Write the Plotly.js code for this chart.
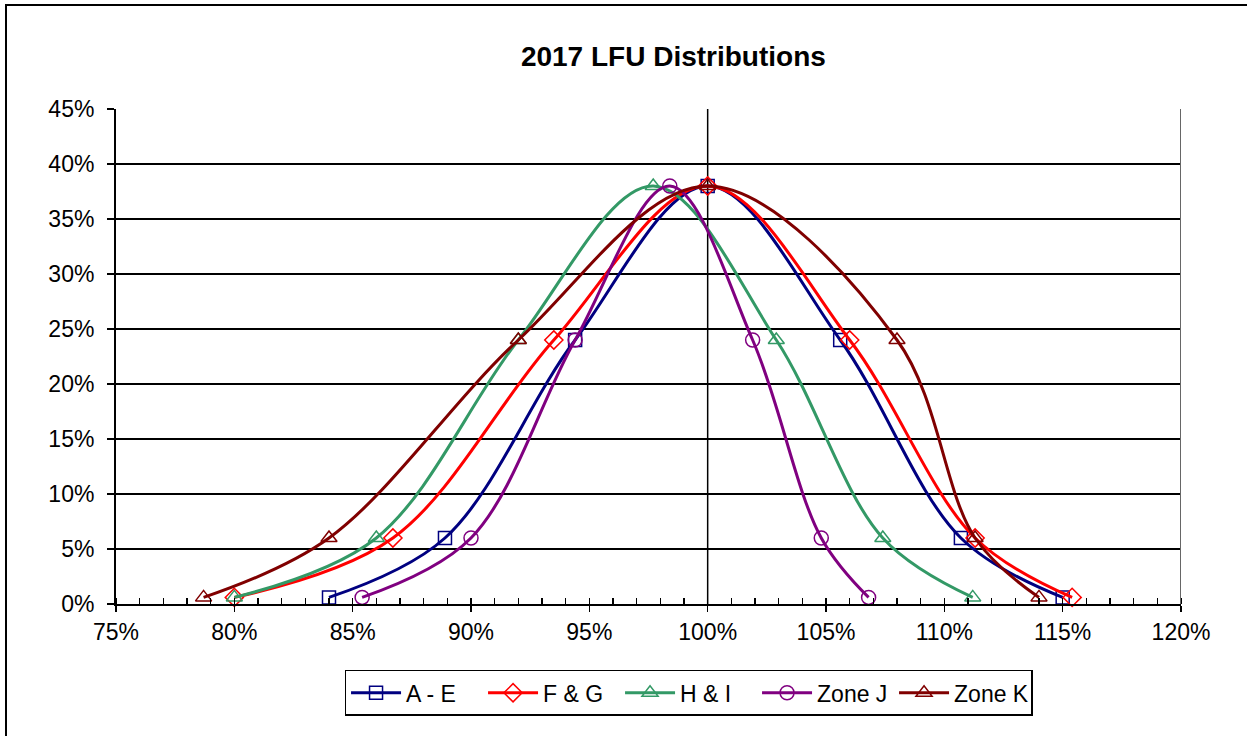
<!DOCTYPE html>
<html>
<head>
<meta charset="utf-8">
<script src="https://cdn.plot.ly/plotly-3.0.1.min.js"></script>
<style>
  html, body { margin: 0; padding: 0; background: #fff; overflow: hidden; }
  #chart { width: 1247px; height: 736px; }
  #frame { position: absolute; left: 5px; top: 4px; width: 1400px; height: 900px;
           border-left: 2px solid #000; border-top: 2px solid #000; pointer-events: none; }
</style>
</head>
<body>
<div id="chart"></div>
<div id="frame"></div>
<script>
// Data (percent units)
const levels = [0.6, 6, 24, 38, 24, 6, 0.6];
const xAE    = [84.0, 88.9, 94.4, 100.0, 105.6, 110.7, 115.0];
const xFG    = [80.0, 86.7, 93.5, 100.0, 106.0, 111.3, 115.4];
const xHI    = [80.0, 86.0, 92.0, 97.7, 102.9, 107.4, 111.2];
const xJ     = [85.4, 90.0, 94.4, 98.4, 101.9, 104.8, 106.8];
const xK     = [78.7, 84.0, 92.0, 100.0, 108.0, 111.3, 114.0];
const seriesNames = ["A - E", "F & G", "H & I", "Zone J", "Zone K"];
const xTicks = [75, 80, 85, 90, 95, 100, 105, 110, 115, 120];
const yTicks = [0, 5, 10, 15, 20, 25, 30, 35, 40, 45];

const styles = [
  {color: "#000080", symbol: "square-open", size: 13},
  {color: "#FF0000", symbol: "diamond-open", size: 14},
  {color: "#339966", symbol: "triangle-up-open", size: 14},
  {color: "#800080", symbol: "circle-open", size: 14},
  {color: "#800000", symbol: "triangle-up-open", size: 14}
];
const xs = [xAE, xFG, xHI, xJ, xK];

const traces = xs.map((x, i) => ({
  type: "scatter",
  mode: "lines+markers",
  name: seriesNames[i],
  x: x,
  y: levels,
  line: {color: styles[i].color, width: 3, shape: "spline", smoothing: 1},
  marker: {symbol: styles[i].symbol, size: styles[i].size, color: styles[i].color,
           line: {color: styles[i].color, width: 1.5}},
  cliponaxis: false
}));

const fontFam = "Liberation Sans, Arial, sans-serif";

const layout = {
  width: 1247, height: 736,
  margin: {l: 116, r: 66, t: 109, b: 132},
  paper_bgcolor: "#fff", plot_bgcolor: "#fff",
  font: {family: fontFam, color: "#000", size: 23},
  title: {text: "<b>2017 LFU Distributions</b>", font: {family: fontFam, size: 28, color: "#000"},
          x: 0.54, xref: "container", y: 0.924, yref: "container", yanchor: "middle", xanchor: "center"},
  showlegend: true,
  legend: {orientation: "h", x: 0.5376, xanchor: "center", y: -0.133, yanchor: "top",
           bordercolor: "#000", borderwidth: 1.5, font: {family: fontFam, size: 23, color: "#000"},
           traceorder: "normal", itemwidth: 50, entrywidth: 72, entrywidthmode: "pixels"},
  xaxis: {range: [75, 120], tickvals: xTicks, ticktext: xTicks.map(v => v + "%"),
          showgrid: false, zeroline: false, showline: true, linecolor: "#000", linewidth: 2,
          ticks: "outside", ticklen: 6, tickwidth: 1.5, tickcolor: "#000",
          minor: {dtick: 1, ticks: "inside", ticklen: 6, tickwidth: 1.5, tickcolor: "#000", showgrid: false},
          tickfont: {family: fontFam, size: 23, color: "#000"}, fixedrange: true},
  xaxis2: {range: [75, 120], overlaying: "x", anchor: "y", side: "bottom", tickvals: xTicks,
           showticklabels: false, showgrid: false, zeroline: false, showline: false,
           ticks: "inside", ticklen: 6, tickwidth: 1.5, tickcolor: "#000"},
  yaxis: {range: [0, 45], tickvals: yTicks, ticktext: yTicks.map(v => v + "%"),
          showgrid: true, gridcolor: "#000", gridwidth: 1.3, zeroline: false,
          showline: true, linecolor: "#000", linewidth: 2,
          ticks: "outside", ticklen: 7, tickwidth: 1.5, tickcolor: "#000", ticklabelstandoff: 8,
          tickfont: {family: fontFam, size: 23, color: "#000"}, fixedrange: true},
  shapes: [
    {type: "line", xref: "x", yref: "y", x0: 100, x1: 100, y0: 0, y1: 45,
     line: {color: "#000", width: 1.5}, layer: "below"},
    {type: "line", xref: "x", yref: "y", x0: 120, x1: 120, y0: 0, y1: 45,
     line: {color: "#666", width: 2}, layer: "above"}
  ]
};

// invisible trace attached to xaxis2 so its inside major ticks are drawn
traces.push({type: "scatter", x: [75, 120], y: [0, 0], xaxis: "x2", yaxis: "y",
             mode: "none", showlegend: false, hoverinfo: "skip"});

Plotly.newPlot("chart", traces, layout, {staticPlot: true, displayModeBar: false});
</script>
</body>
</html>
